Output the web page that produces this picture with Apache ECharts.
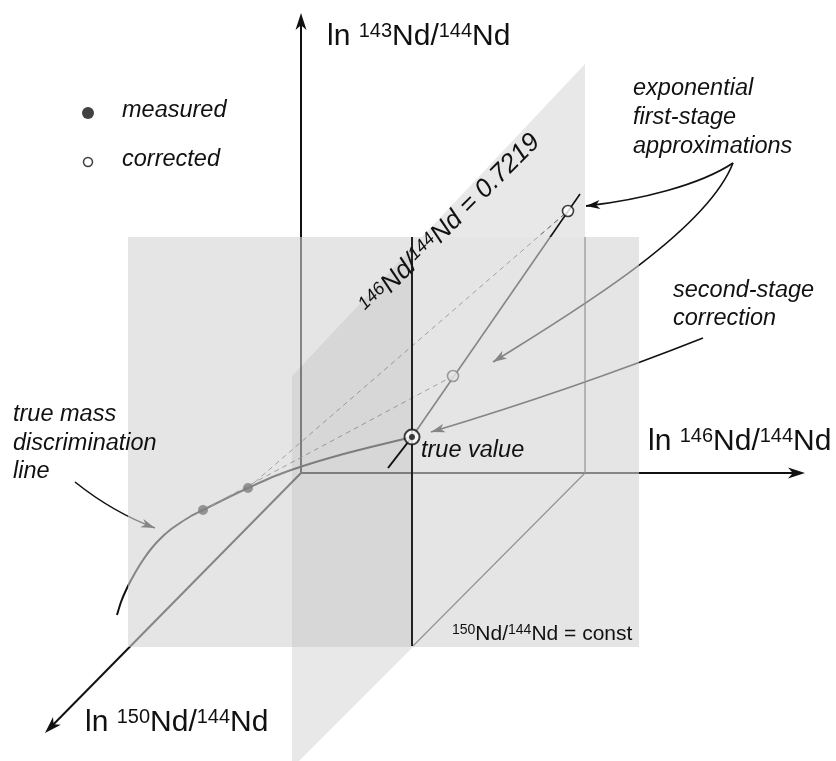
<!DOCTYPE html>
<html>
<head>
<meta charset="utf-8">
<script src="https://cdn.jsdelivr.net/npm/echarts@6/dist/echarts.min.js"></script>
<style>
  html, body { margin: 0; padding: 0; background: #ffffff; }
  #chart { width: 836px; height: 761px; }
</style>
</head>
<body>
<div id="chart"></div>
<script>
// Three-dimensional sketch of Nd isotope-ratio space drawn on a flat
// value/value grid (x to the right, y downwards).

// ---- axes of ln-ratio space -------------------------------------------
const axisOrigin = [301, 473];
const axisTip143 = [301, 13];
const axisTip146 = [805, 473];
const axisTip150 = [45, 733];

// ---- planes -------------------------------------------------------------
const planeConst150 = [[128, 237], [639, 237], [639, 647], [128, 647]];
const plane146Top = [[585, 64], [585, 237], [422, 237]];
const plane146Bottom = [[292, 647], [413, 647], [292, 768]];
const plane146Front = [[292, 376], [413, 247], [413, 647], [292, 647]];

// ---- edges -------------------------------------------------------------
const edge146Back = [[585, 237], [585, 473]];
const edge146Floor = [[585, 473], [413, 646]];
const edgeIntersect = [[412, 237], [412, 646]];

// ---- true mass discrimination line ---------------------------------------
const massLineX = [117, 121, 127, 135, 143, 151, 160, 170, 180, 191, 203, 225, 248, 275, 303, 340, 375, 412];
const massLineY = [615, 602, 588, 573, 560, 549, 539, 530, 523, 516, 510, 499, 488, 476, 466, 455, 446, 437];

// ---- measured / corrected / true -------------------------------------------
const measuredX = [203, 248];
const measuredY = [510, 488];
const correctedX = [453, 568];
const correctedY = [376, 211];
const trueValue = [412, 437];

// exponential first-stage line through the true value
const firstStageFront = [[388, 468], [412, 437]];
const firstStageBack = [[412, 437], [580, 194]];
// projections from measured to corrected values
const projectionA = [[203, 510], [453, 376]];
const projectionB = [[248, 488], [568, 211]];

// ---- callout arrows (cubic: from, control 1, control 2, to) ----------------
const calloutToUpper = [[733, 163], [700, 185], [640, 200], [586, 206]];
const calloutToLower = [[733, 163], [705, 235], [560, 320], [493, 362]];
const calloutSecond = [[703, 338], [612, 374], [521, 405], [431, 432]];
const calloutMassLine = [[75, 482], [95, 498], [120, 515], [155, 528]];

// ---- legend ----------------------------------------------------------------
const legendMeasured = [88, 113];
const legendCorrected = [88, 162];

const FONT = 'Liberation Sans, Arial, Helvetica, sans-serif';
const INK = '#111111';

function pairs(xs, ys) { return xs.map((x, i) => [x, ys[i]]); }

function polygonSeries(points, fill, z) {
  return {
    type: 'custom', coordinateSystem: 'cartesian2d', silent: true, z: z,
    data: points,
    renderItem: function (params, api) {
      if (params.dataIndex !== 0) return null;
      return {
        type: 'polygon',
        shape: { points: points.map(function (p) { return api.coord(p); }) },
        style: { fill: fill, stroke: null }
      };
    }
  };
}

function lineSeries(points, color, width, z, dash, smooth) {
  return {
    type: 'line', data: points, symbol: 'none', silent: true, z: z,
    smooth: smooth || false,
    lineStyle: { color: color, width: width, type: dash || 'solid', cap: 'butt' }
  };
}

function arrowHead(tip, from, len, half, color) {
  const dx = tip[0] - from[0], dy = tip[1] - from[1];
  const d = Math.sqrt(dx * dx + dy * dy) || 1;
  const ux = dx / d, uy = dy / d;
  const bx = tip[0] - ux * len, by = tip[1] - uy * len;
  return {
    type: 'polygon',
    shape: { points: [tip, [bx - uy * half, by + ux * half], [tip[0] - ux * len * 0.72, tip[1] - uy * len * 0.72], [bx + uy * half, by - ux * half]] },
    style: { fill: color, stroke: null }
  };
}

// straight axis with arrowhead at its tip
function axisSeries(start, tip, color, z) {
  return {
    type: 'custom', coordinateSystem: 'cartesian2d', silent: true, z: z,
    data: [[start[0], start[1], tip[0], tip[1]]],
    renderItem: function (params, api) {
      const a = api.coord([api.value(0), api.value(1)]);
      const b = api.coord([api.value(2), api.value(3)]);
      const dx = b[0] - a[0], dy = b[1] - a[1];
      const d = Math.sqrt(dx * dx + dy * dy);
      const e = [b[0] - dx / d * 8, b[1] - dy / d * 8];
      return {
        type: 'group',
        children: [
          { type: 'line', shape: { x1: a[0], y1: a[1], x2: e[0], y2: e[1] }, style: { stroke: color, lineWidth: 2 } },
          arrowHead(b, a, 17, 5.5, color)
        ]
      };
    }
  };
}

function calloutSeries(c, color, width, z) {
  return {
    type: 'custom', coordinateSystem: 'cartesian2d', silent: true, z: z,
    data: [[c[0][0], c[0][1], c[1][0], c[1][1], c[2][0], c[2][1], c[3][0], c[3][1]]],
    renderItem: function (params, api) {
      const p0 = api.coord([api.value(0), api.value(1)]);
      const p1 = api.coord([api.value(2), api.value(3)]);
      const p2 = api.coord([api.value(4), api.value(5)]);
      const p3 = api.coord([api.value(6), api.value(7)]);
      return {
        type: 'group',
        children: [
          { type: 'bezierCurve', shape: { x1: p0[0], y1: p0[1], cpx1: p1[0], cpy1: p1[1], cpx2: p2[0], cpy2: p2[1], x2: p3[0], y2: p3[1] },
            style: { stroke: color, lineWidth: width, fill: null } },
          arrowHead(p3, p2, 14, 4.5, color)
        ]
      };
    }
  };
}

// text positioned by its left end and baseline
function plainText(str, x, baseline, size, italic) {
  return {
    type: 'text', x: x, y: baseline - 0.3465 * size, z: 50, silent: true,
    style: { text: str, fill: INK, font: (italic ? 'italic ' : '') + size + 'px ' + FONT,
             align: 'left', verticalAlign: 'middle', textAlign: 'left', textVerticalAlign: 'middle' }
  };
}

function ratioRich(size, sup, italic) {
  const fs = italic ? 'italic' : 'normal';
  return {
    m: { fontSize: size, lineHeight: size, fontFamily: FONT, fontStyle: fs, fill: INK, color: INK },
    s: { fontSize: sup, lineHeight: sup, fontFamily: FONT, fontStyle: fs, fill: INK, color: INK, verticalAlign: 'top' }
  };
}

function richText(str, x, baseline, size, sup, italic) {
  return {
    type: 'text', x: x, y: baseline - 0.8465 * size, z: 50, silent: true,
    style: { text: str, rich: ratioRich(size, sup, italic), align: 'left', verticalAlign: 'top',
             textAlign: 'left', textVerticalAlign: 'top' }
  };
}

const chart = echarts.init(document.getElementById('chart'), null, { renderer: 'canvas' });

const PLANE = '#e8e8e8';
const OVERLAY = 'rgba(212,212,212,0.6)';

const option = {
  animation: false,
  backgroundColor: '#ffffff',
  grid: { left: 0, right: 0, top: 0, bottom: 0, containLabel: false },
  xAxis: { type: 'value', min: 0, max: 836, show: false },
  yAxis: { type: 'value', min: 0, max: 761, inverse: true, show: false },
  series: [
    // plane 146Nd/144Nd = 0.7219, parts outside the 150 plane
    polygonSeries(plane146Top, PLANE, 1),
    polygonSeries(plane146Bottom, PLANE, 1),

    // everything lying behind the 150Nd/144Nd = const plane
    axisSeries(axisOrigin, axisTip143, INK, 2),
    axisSeries(axisOrigin, axisTip146, INK, 2),
    axisSeries(axisOrigin, axisTip150, INK, 2),
    lineSeries(edge146Back, '#333', 1.2, 2),
    lineSeries(edge146Floor, '#333', 1.2, 2),
    lineSeries(pairs(massLineX, massLineY), INK, 2, 2, null, 0.2),
    lineSeries(projectionA, '#555', 1, 2, [5, 4]),
    lineSeries(projectionB, '#555', 1, 2, [5, 4]),
    lineSeries(firstStageBack, INK, 1.6, 2),
    calloutSeries(calloutToUpper, INK, 1.8, 2),
    calloutSeries(calloutToLower, INK, 1.6, 2),
    calloutSeries(calloutSecond, INK, 1.6, 2),
    calloutSeries(calloutMassLine, INK, 1.6, 2),
    {
      type: 'scatter', z: 2, silent: true, symbolSize: 10,
      itemStyle: { color: '#000' },
      data: pairs(measuredX, measuredY)
    },
    {
      type: 'scatter', z: 2, silent: true, symbolSize: 11,
      itemStyle: { color: '#ffffff', borderColor: INK, borderWidth: 1.6 },
      data: pairs(correctedX, correctedY)
    },

    // the 150Nd/144Nd = const plane, semi-opaque
    polygonSeries(planeConst150, OVERLAY, 3),
    // part of the 146 plane in front of it
    polygonSeries(plane146Front, 'rgba(0,0,0,0.06)', 4),

    // in front
    lineSeries(edgeIntersect, '#222', 2, 5),
    lineSeries(firstStageFront, INK, 2, 5),
    {
      type: 'scatter', z: 6, silent: true, symbolSize: 15,
      itemStyle: { color: '#ffffff', borderColor: INK, borderWidth: 2 },
      data: [trueValue]
    },
    {
      type: 'scatter', z: 7, silent: true, symbolSize: 6,
      itemStyle: { color: INK },
      data: [trueValue]
    },
    // legend markers
    {
      type: 'scatter', z: 6, silent: true, symbolSize: 12,
      itemStyle: { color: INK },
      data: [legendMeasured]
    },
    {
      type: 'scatter', z: 6, silent: true, symbolSize: 9,
      itemStyle: { color: '#ffffff', borderColor: INK, borderWidth: 1.5 },
      data: [legendCorrected]
    }
  ],
  graphic: {
    elements: [
      richText('{m|ln }{s|143}{m|Nd/}{s|144}{m|Nd}', 327, 47, 30, 20, false),
      richText('{m|ln }{s|146}{m|Nd/}{s|144}{m|Nd}', 648, 452, 30, 20, false),
      richText('{m|ln }{s|150}{m|Nd/}{s|144}{m|Nd}', 85, 733, 30, 20, false),
      richText('{s|150}{m|Nd/}{s|144}{m|Nd = const}', 452, 641, 21, 14, false),
      {
        type: 'text', x: 450, y: 224, rotation: Math.PI / 4, z: 50, silent: true,
        style: { text: '{s|146}{m|Nd/}{s|144}{m|Nd = 0.7219}', rich: ratioRich(26, 18, true),
                 align: 'center', verticalAlign: 'middle', textAlign: 'center', textVerticalAlign: 'middle' }
      },
      plainText('measured', 122, 119, 23.5, true),
      plainText('corrected', 122, 168, 23.5, true),
      plainText('exponential', 633, 97, 23.5, true),
      plainText('first-stage', 633, 126, 23.5, true),
      plainText('approximations', 633, 155, 23.5, true),
      plainText('second-stage', 673, 299, 23.5, true),
      plainText('correction', 673, 327, 23.5, true),
      plainText('true mass', 13, 423, 23.5, true),
      plainText('discrimination', 13, 452, 23.5, true),
      plainText('line', 13, 480, 23.5, true),
      plainText('true value', 421, 459, 23.5, true)
    ]
  }
};

chart.setOption(option);
</script>
</body>
</html>
